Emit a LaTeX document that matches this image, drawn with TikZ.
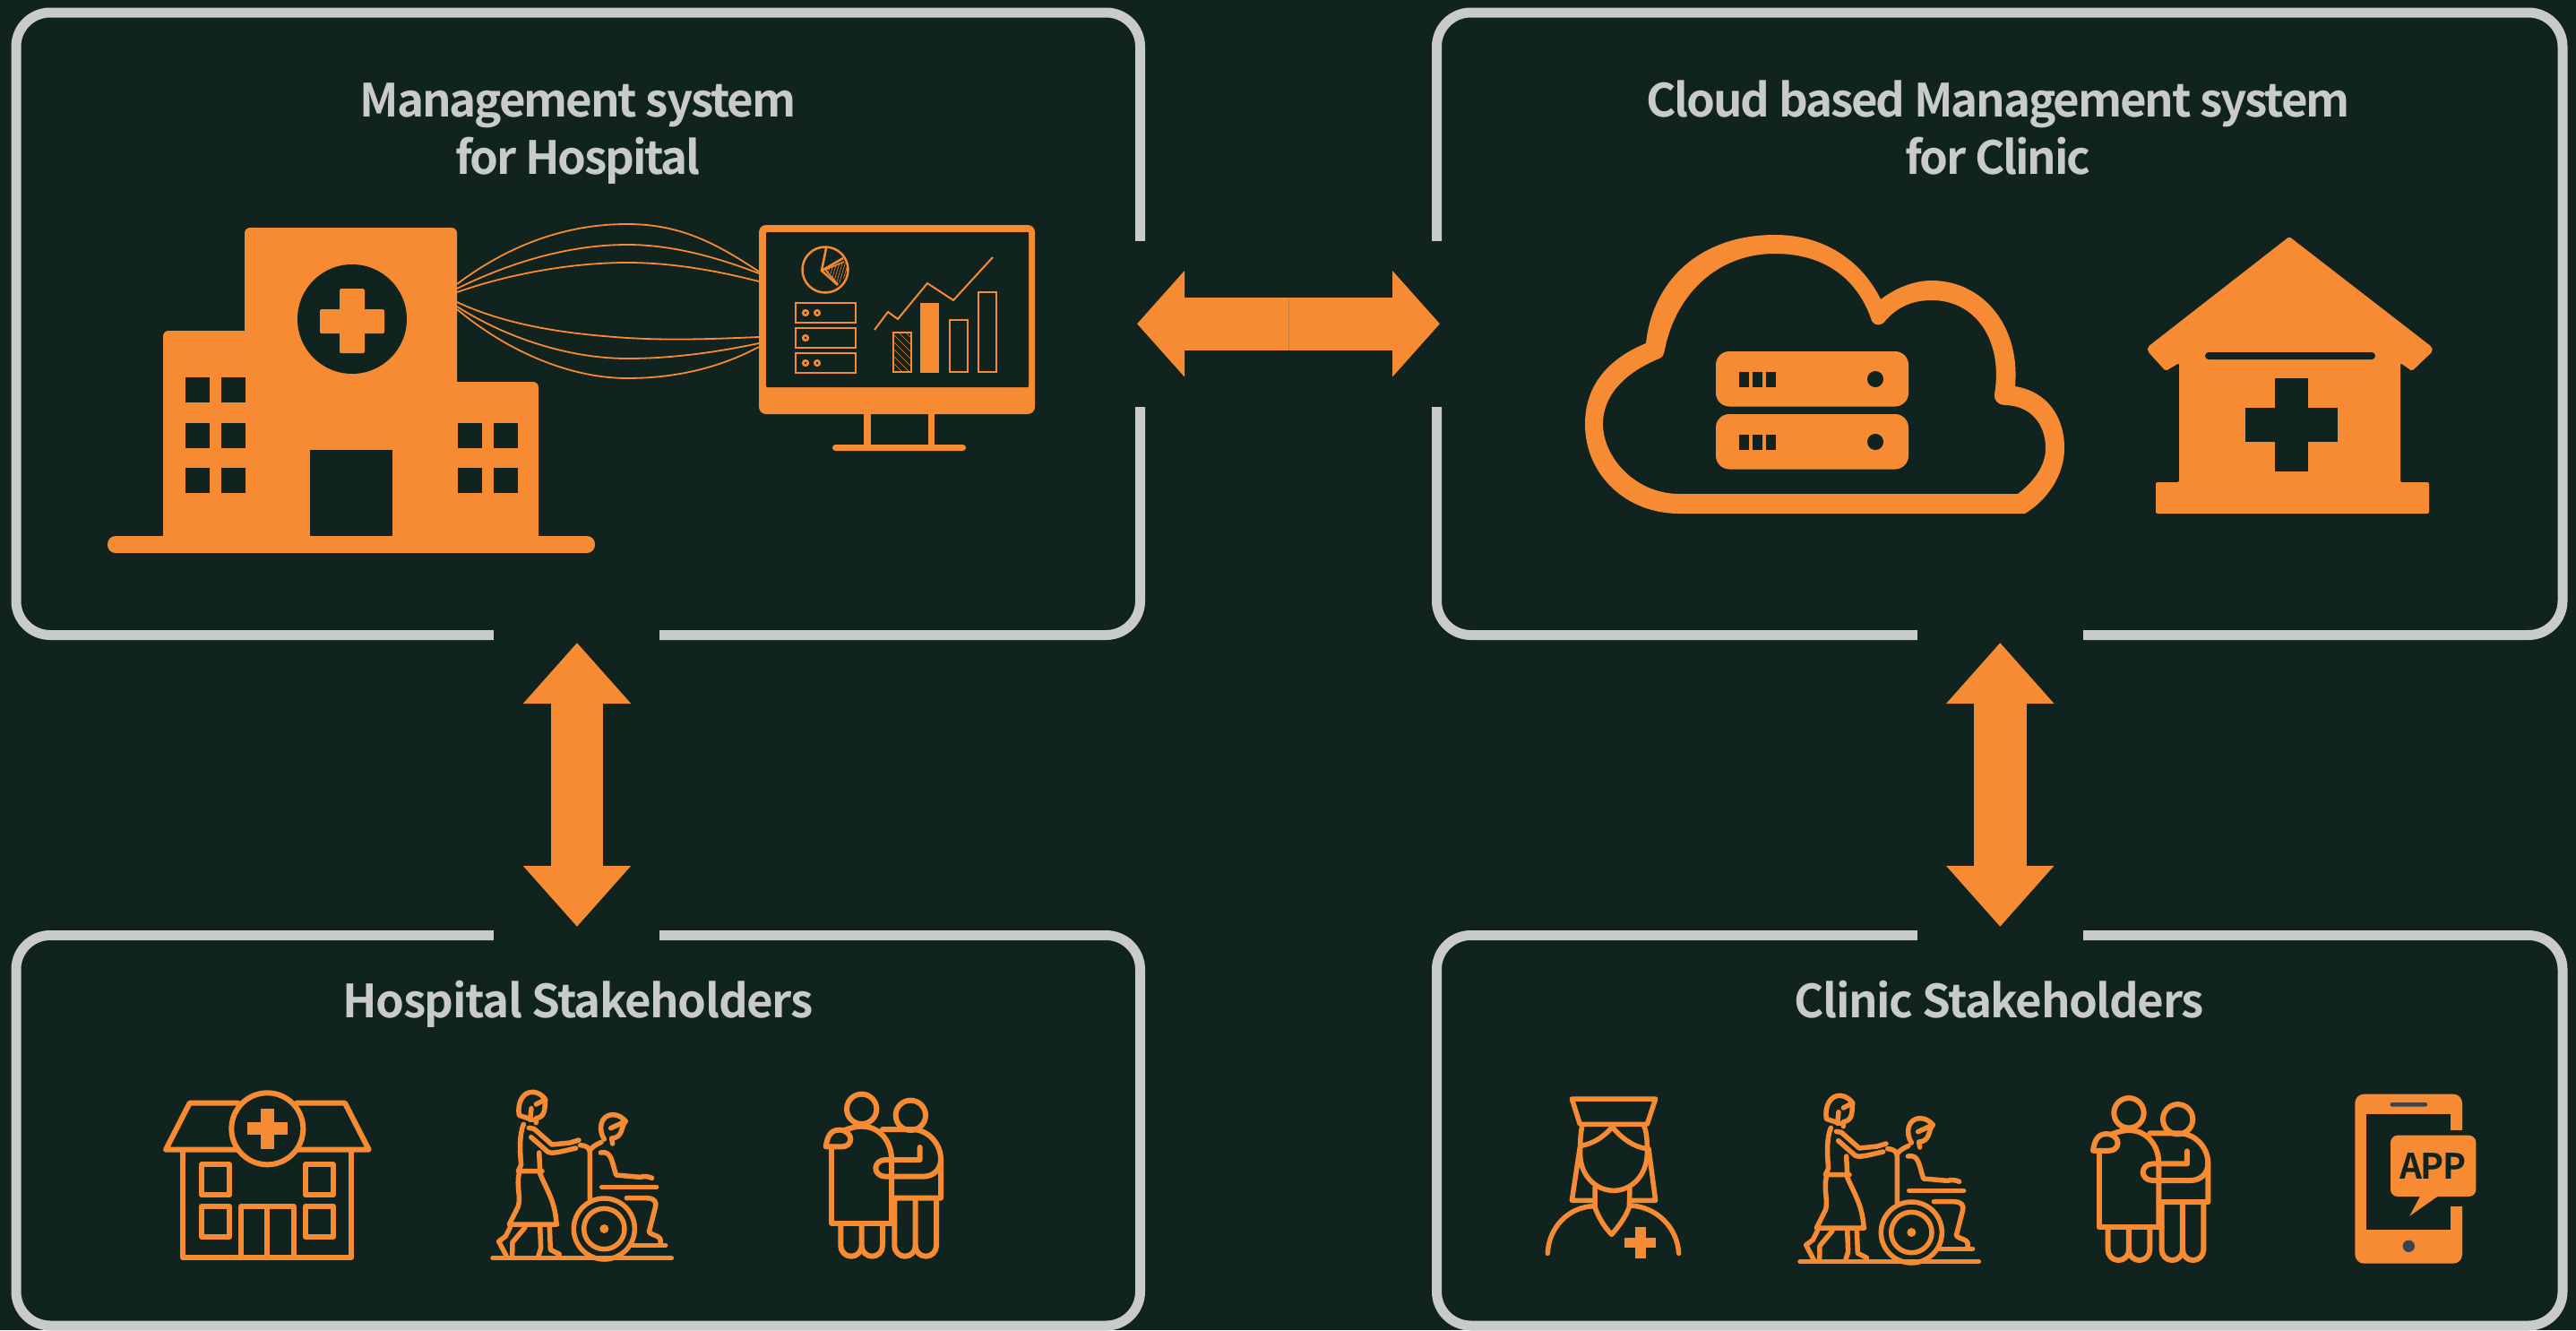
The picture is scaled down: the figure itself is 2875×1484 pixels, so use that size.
\documentclass[tikz,border=0pt]{standalone}
\usepackage{fontspec}
\usetikzlibrary{arrows.meta,calc}
\newfontfamily\ttlfont[LetterSpace=-2.8]{Noto Sans CJK SC Bold}
\newfontfamily\topfont[LetterSpace=-4.1]{Noto Sans CJK SC Bold}
\newfontfamily\appfont[LetterSpace=-4]{Noto Sans CJK SC Bold}
\definecolor{bg}{HTML}{11231F}
\definecolor{org}{HTML}{F68B33}
\definecolor{gry}{HTML}{C8CACB}
\definecolor{seamc}{HTML}{C87F38}
\definecolor{hw}{HTML}{3E434B}
\tikzset{
  box/.style={draw=gry,line width=11pt,rounded corners=38pt,inner sep=0pt,outer sep=0pt,fill=none},
  gap/.style={fill=bg,draw=none},
  title/.style={text=gry,font=\ttlfont\fontsize{51}{64}\selectfont,align=center,anchor=base,inner sep=0pt},
  toptitle/.style={title,font=\topfont\fontsize{51}{64}\selectfont},
  vbig/.style={draw=org,line width=58.5pt,{Triangle[length=68pt,width=116pt]}-{Triangle[length=68pt,width=116pt]}},
  hbig/.style={draw=org,line width=59pt,{Triangle[length=53pt,width=115.5pt]}-{Triangle[length=53pt,width=115.5pt]},shorten >=-3.5pt,shorten <=-3.5pt},
  solid org/.style={fill=org,draw=none},
  hole/.style={fill=bg,draw=none},
  wire/.style={draw=org,line width=1.8pt},
  thin org/.style={draw=org,line width=2.5pt},
  ico/.style={draw=org,line width=6pt,line cap=round,line join=round},
  ico2/.style={draw=org,line width=5.5pt,line cap=round,line join=round},
  walker/.pic={
    \begin{scope}[scale=0.33333,ico2]
      % woman head
      \draw (1060,160) -- (1015,145) .. controls (1008,100) and (1030,65) .. (1062,67) .. controls (1080,68) and (1095,80) .. (1103,92) -- (1072,108);
      \draw (1103,92) .. controls (1100,120) and (1105,150) .. (1072,155) -- (1072,170);
      \draw (1056,122) -- (1052,160);
      % woman body
      \draw (1030,175) .. controls (1015,210) and (1018,270) .. (1022,310) -- (1012,332) -- (1092,332);
      \draw (1015,340) .. controls (1005,380) and (1022,420) .. (1012,450) -- (982,510) -- (1142,510);
      \draw (1085,340) .. controls (1105,390) and (1135,430) .. (1140,505);
      \draw (1082,270) -- (1085,328);
      % arms
      \draw (1048,187) -- (1065,190) -- (1125,243) -- (1185,237) -- (1215,228);
      \draw (1055,218) -- (1112,268) .. controls (1130,275) and (1160,265) .. (1205,255);
      % legs
      \draw (985,520) -- (970,550) -- (947,567) -- (972,615);
      \draw (1035,520) -- (993,570) -- (992,615);
      \draw (1085,515) -- (1088,590) -- (1080,615);
      \draw (1117,515) -- (1120,595) -- (1150,610);
      % ground
      \draw (927,623) -- (1525,623);
      % chair
      \draw (1220,245) .. controls (1240,245) and (1252,255) .. (1252,270) -- (1252,425);
      \draw (1252,262) .. controls (1260,250) and (1275,242) .. (1290,235);
      \draw (1300,525) circle (102);
      \draw (1300,525) circle (68);
      \fill[org] (1300,525) circle (15);
      % man head
      \draw (1300,225) .. controls (1280,195) and (1285,143) .. (1330,143) .. controls (1350,143) and (1362,155) .. (1372,165) -- (1322,188);
      \draw (1372,165) .. controls (1355,180) and (1365,220) .. (1325,222) -- (1328,240);
      % man torso
      \draw (1288,270) .. controls (1325,262) and (1325,300) .. (1340,345) -- (1420,352) .. controls (1435,348) and (1450,350) .. (1460,355);
      \draw (1292,385) -- (1475,385);
      \draw (1375,422) -- (1440,422) .. controls (1470,422) and (1475,435) .. (1472,450) -- (1450,535) .. controls (1460,550) and (1495,545) .. (1488,572);
      \draw (1395,580) -- (1505,580);
    \end{scope}
  },
  couple/.pic={
    \begin{scope}[scale=0.33333,ico]
      \draw (905,142) circle (50);
      \draw (1069,163) circle (50);
      \draw (850,212) .. controls (870,205) and (885,200) .. (905,200) .. controls (965,200) and (1005,250) .. (1005,310) -- (1005,525);
      \draw (785,268) .. controls (790,235) and (800,212) .. (830,212) .. controls (855,212) and (868,230) .. (868,242) .. controls (868,258) and (855,268) .. (840,268) -- cycle;
      \draw (805,268) -- (805,525) -- (1015,525);
      \draw (835,530) -- (835,600) arc[start angle=180,end angle=0,radius=35] -- (905,530);
      \draw (905,600) arc[start angle=180,end angle=0,radius=35] -- (975,530);
      \draw (975,210) -- (1075,210) .. controls (1130,212) and (1170,260) .. (1170,310) -- (1170,440) -- (1005,440);
      \draw (1100,270) -- (1100,312) -- (985,312) .. controls (965,312) and (952,325) .. (952,340) .. controls (952,355) and (965,368) .. (985,368) -- (1110,368) .. controls (1145,368) and (1170,345) .. (1170,310);
      \draw (1015,445) -- (1015,600) arc[start angle=180,end angle=0,radius=35] -- (1085,445);
      \draw (1085,600) arc[start angle=180,end angle=0,radius=35] -- (1155,445);
    \end{scope}
  }
}
\begin{document}
\begin{tikzpicture}[x=1pt,y=-1pt]
\fill[bg] (0,0) rectangle (2875,1484);
\useasboundingbox (0,0) rectangle (2875,1484);

% panels
\node[box,minimum width=1254.5pt,minimum height=694.5pt] (hosp) at (645.25,361.25) {};
\node[box,minimum width=1256.5pt,minimum height=694.5pt] (cloud) at (2231.75,361.25) {};
\node[box,minimum width=1254.5pt,minimum height=435.5pt] (hstake) at (645.25,1261.25) {};
\node[box,minimum width=1256.5pt,minimum height=435.5pt] (cstake) at (2231.75,1261.25) {};
% openings in the panel borders
\fill[gap] (1262,269) rectangle (1283,454);
\fill[gap] (1593,269) rectangle (1614,454);
\fill[gap] (551.3,698) rectangle (736,719);
\fill[gap] (551.3,1033) rectangle (736,1054);
\fill[gap] (2139.7,698) rectangle (2324.7,719);
\fill[gap] (2139.7,1033) rectangle (2324.7,1054);

% connectors
\draw[hbig] (hosp.east) -- (cloud.west);
\draw[seamc,line width=1pt] ($(hosp.east)!0.5!(cloud.west)+(0,-29.5)$) -- ($(hosp.east)!0.5!(cloud.west)+(0,29.5)$);
\draw[vbig,shorten <=8.5pt,shorten >=9.5pt] ([xshift=-1.25pt]hosp.south) -- ([xshift=-1.25pt]hstake.north);
\draw[vbig,shorten <=8.5pt,shorten >=9.5pt] ([xshift=0.5pt]cloud.south) -- ([xshift=0.5pt]cstake.north);

% titles
\node[toptitle] (t1) at (645,194) {Management system\\for Hospital};
\node[toptitle] (t2) at (2230,194) {Cloud based Management system\\for Clinic};
\node[title] (t3) at (645,1135) {Hospital Stakeholders};
\node[title] (t4) at (2231,1135) {Clinic Stakeholders};

% hospital silhouette
\fill[solid org,rounded corners=6pt] (273,254) rectangle (510,598);
\fill[solid org,rounded corners=6pt] (182,369) rectangle (320,605);
\fill[solid org,rounded corners=6pt] (480,426) rectangle (601,605);
\fill[solid org,rounded corners=9pt] (120,598) rectangle (664,617);
\fill[hole] (393,356) circle (61);
\fill[solid org,rounded corners=1.5pt] (379,322) rectangle (407,394);
\fill[solid org,rounded corners=1.5pt] (357,345) rectangle (429,372);
\foreach \yy in {421,472,522}{
  \fill[hole] (207,\yy) rectangle (234,\yy+28);
  \fill[hole] (247,\yy) rectangle (274,\yy+28);
}
\foreach \yy in {472,522}{
  \fill[hole] (511,\yy) rectangle (538,\yy+28);
  \fill[hole] (551,\yy) rectangle (578,\yy+28);
}
\fill[hole] (346,502) rectangle (438,598);

% monitor
\fill[solid org,rounded corners=8pt] (847,251) rectangle (1155,462);
\fill[hole,rounded corners=1pt] (855,259) rectangle (1148,432);
\fill[solid org] (964,460) rectangle (972,498);
\fill[solid org] (1036,460) rectangle (1043,498);
\fill[solid org,rounded corners=3.5pt] (929,496) rectangle (1078,503);

% wires between hospital and monitor
\coordinate (h1) at (510,317); \coordinate (m1) at (847,303);
\coordinate (h2) at (510,322); \coordinate (m2) at (847,305);
\coordinate (h3) at (510,326); \coordinate (m3) at (847,314);
\coordinate (h4) at (510,337); \coordinate (m4) at (847,376);
\coordinate (h5) at (510,342); \coordinate (m5) at (847,383);
\coordinate (h6) at (510,345); \coordinate (m6) at (847,387);
\draw[wire] (h1) .. controls (575,268) and (640,250) .. (700,250) .. controls (760,250) and (800,272) .. (m1);
\draw[wire] (h2) .. controls (575,290) and (640,273) .. (700,273) .. controls (750,273) and (800,287) .. (m2);
\draw[wire] (h3) .. controls (570,305) and (640,293) .. (700,293) .. controls (750,293) and (800,302) .. (m3);
\draw[wire] (h4) .. controls (570,365) and (640,373) .. (700,377) .. controls (750,380) and (800,378) .. (m4);
\draw[wire] (h5) .. controls (570,380) and (640,400) .. (700,400) .. controls (750,400) and (800,393) .. (m5);
\draw[wire] (h6) .. controls (570,395) and (640,422) .. (700,422) .. controls (750,422) and (800,412) .. (m6);

% monitor contents: pie
\draw[thin org] (921,301) circle (25.5);
\draw[thin org] (922,277) -- (917,302) -- (935,318);
\draw[thin org] (917,302) -- (941,288);
\begin{scope}
  \clip (921,301) -- (942,292) -- (945,295) -- (947,305) -- (935,317) -- cycle;
  \foreach \i in {0,...,14}{
    \draw[org,line width=0.6pt] (910+\i*3.2,330) -- (925+\i*3.2,280);
  }
\end{scope}
\draw[org,line width=1.5pt] (921,301) -- (942,292) (921,301) -- (935,317);
% server stack
\foreach \yy in {338,366,394}{
  \draw[thin org] (888,\yy) rectangle (955,\yy+22);
}
\foreach \cx/\cy in {899/349,912/349,899/377,899/405,912/405}{
  \draw[org,line width=2.5pt] (\cx,\cy) circle (2.8);
}
% trend line
\draw[org,line width=2pt] (976,368) -- (991,348) -- (1002,356) -- (1035,316) -- (1064,335) -- (1108,287);
% bars
\draw[org,line width=2pt] (997,371) rectangle (1017,415);
\begin{scope}
  \clip (997,371) rectangle (1017,415);
  \foreach \i in {0,...,8}{
    \draw[org,line width=0.6pt] (990,350+\i*8) -- (1025,385+\i*8);
  }
\end{scope}
\fill[solid org] (1027,338) rectangle (1048,416);
\draw[org,line width=2pt] (1060,357) rectangle (1080,415);
\draw[org,line width=2pt] (1092,326) rectangle (1112,415);

% cloud
\fill[org,even odd rule]
 (1769,473) .. controls (1769,430) and (1795,400) .. (1837,383)
 .. controls (1845,310) and (1900,262) .. (1981,262)
 .. controls (2040,262) and (2080,295) .. (2099,334)
 .. controls (2115,322) and (2135,313) .. (2156,313)
 .. controls (2210,313) and (2255,360) .. (2249,431)
 .. controls (2285,437) and (2304,465) .. (2304,500)
 .. controls (2304,530) and (2285,558) .. (2260,573)
 -- (1874,573)
 .. controls (1815,573) and (1769,530) .. (1769,473) -- cycle
 (1789,473) .. controls (1789,510) and (1825,551) .. (1874,551)
 -- (2252,551)
 .. controls (2270,537) and (2283,520) .. (2283,500)
 .. controls (2283,472) and (2265,452) .. (2237,452)
 .. controls (2230,452) and (2225,446) .. (2226,440)
 .. controls (2236,380) and (2205,335) .. (2156,335)
 .. controls (2135,335) and (2118,342) .. (2104,358)
 .. controls (2100,364) and (2092,364) .. (2089,358)
 .. controls (2075,315) and (2040,283) .. (1981,283)
 .. controls (1915,283) and (1870,330) .. (1858,390)
 .. controls (1857,396) and (1855,399) .. (1852,400)
 .. controls (1815,415) and (1789,440) .. (1789,473) -- cycle;
\foreach \yy in {392,462}{
  \fill[solid org,rounded corners=15pt] (1915,\yy) rectangle (2130,\yy+61.5);
  \fill[hole] (1941,\yy+23) rectangle (1952,\yy+40);
  \fill[hole] (1956,\yy+23) rectangle (1967,\yy+40);
  \fill[hole] (1971,\yy+23) rectangle (1982,\yy+40);
  \fill[hole] (2093,\yy+31) circle (9);
}

% clinic house
\fill[solid org,rounded corners=2pt] (2555,264) -- (2714,387) -- (2715,392) -- (2692,414) -- (2679,405) -- (2679,538) -- (2711,538) -- (2711,573) -- (2406,573) -- (2406,538) -- (2432,538) -- (2432,405) -- (2417,414) -- (2397,392) -- (2397,387) -- cycle;
\fill[hole,rounded corners=4pt] (2461,393) rectangle (2651,401);
\fill[hole] (2539,422) rectangle (2576,526);
\fill[hole] (2506,455) rectangle (2609,493);

% hospital stakeholder icon
\begin{scope}[shift={(160,1190)},scale=0.33333,ico]
  \draw (317,122) -- (155,122) -- (75,278) -- (312,278);
  \draw (513,122) -- (675,122) -- (755,278) -- (518,278);
  \draw (415,208) circle (120);
  \draw (133,278) -- (133,640) -- (697,640) -- (697,278);
  \draw (195,328) rectangle (288,430);
  \draw (195,468) rectangle (288,570);
  \draw (543,328) rectangle (635,430);
  \draw (543,468) rectangle (635,570);
  \draw (327,640) -- (327,468) -- (503,468) -- (503,640);
  \draw (415,468) -- (415,640);
  \fill[org] (393,140) rectangle (437,276);
  \fill[org] (347,187) rectangle (483,229);
\end{scope}
\pic at (241,1196) {walker};
\pic at (660,1190) {couple};

% nurse
\begin{scope}[shift={(1700,1200)},scale=0.33333,ico2]
  \draw (163,78) -- (443,78) -- (415,163) -- (190,163) -- cycle;
  \draw (193,235) .. controls (235,228) and (270,205) .. (298,172);
  \draw (298,172) .. controls (330,210) and (370,240) .. (415,245);
  \draw (197,170) .. controls (190,205) and (191,235) .. (191,265) .. controls (191,330) and (240,385) .. (303,385) .. controls (365,385) and (415,330) .. (415,260) .. controls (415,225) and (415,195) .. (405,170);
  \draw (190,240) -- (163,418) -- (240,418);
  \draw (420,245) -- (443,418) -- (360,418);
  \draw (240,375) -- (240,440) .. controls (250,470) and (270,505) .. (296,532) .. controls (320,505) and (345,470) .. (355,440) -- (357,375);
  \draw (235,437) .. controls (150,440) and (85,510) .. (82,595);
  \draw (360,435) .. controls (445,440) and (515,505) .. (521,595);
  \fill[org] (374,507) rectangle (410,612);
  \fill[org] (339,542) rectangle (445,577);
\end{scope}
\pic at (1700,1200) {walker};
\pic at (2074.3,1194.4) {couple};

% phone
\begin{scope}[shift={(2300,1200)},scale=0.33333]
  \fill[solid org,rounded corners=10pt] (985,62) rectangle (1344,629);
  \fill[hole] (1023,128) rectangle (1305,515);
  \fill[hole] (1300,182) rectangle (1350,437);
  \fill[hw,rounded corners=2pt] (1103,90) rectangle (1227,104);
  \fill[hw] (1165,571) circle (20);
  \fill[solid org,rounded corners=8pt] (1104,200) rectangle (1390,405);
  \fill[solid org] (1205,400) -- (1168,470) -- (1268,400) -- cycle;
  \node[text=bg,font=\appfont\fontsize{39}{39}\selectfont,inner sep=0pt,anchor=base] (applabel) at (1245,345) {APP};
\end{scope}
\end{tikzpicture}
\end{document}
